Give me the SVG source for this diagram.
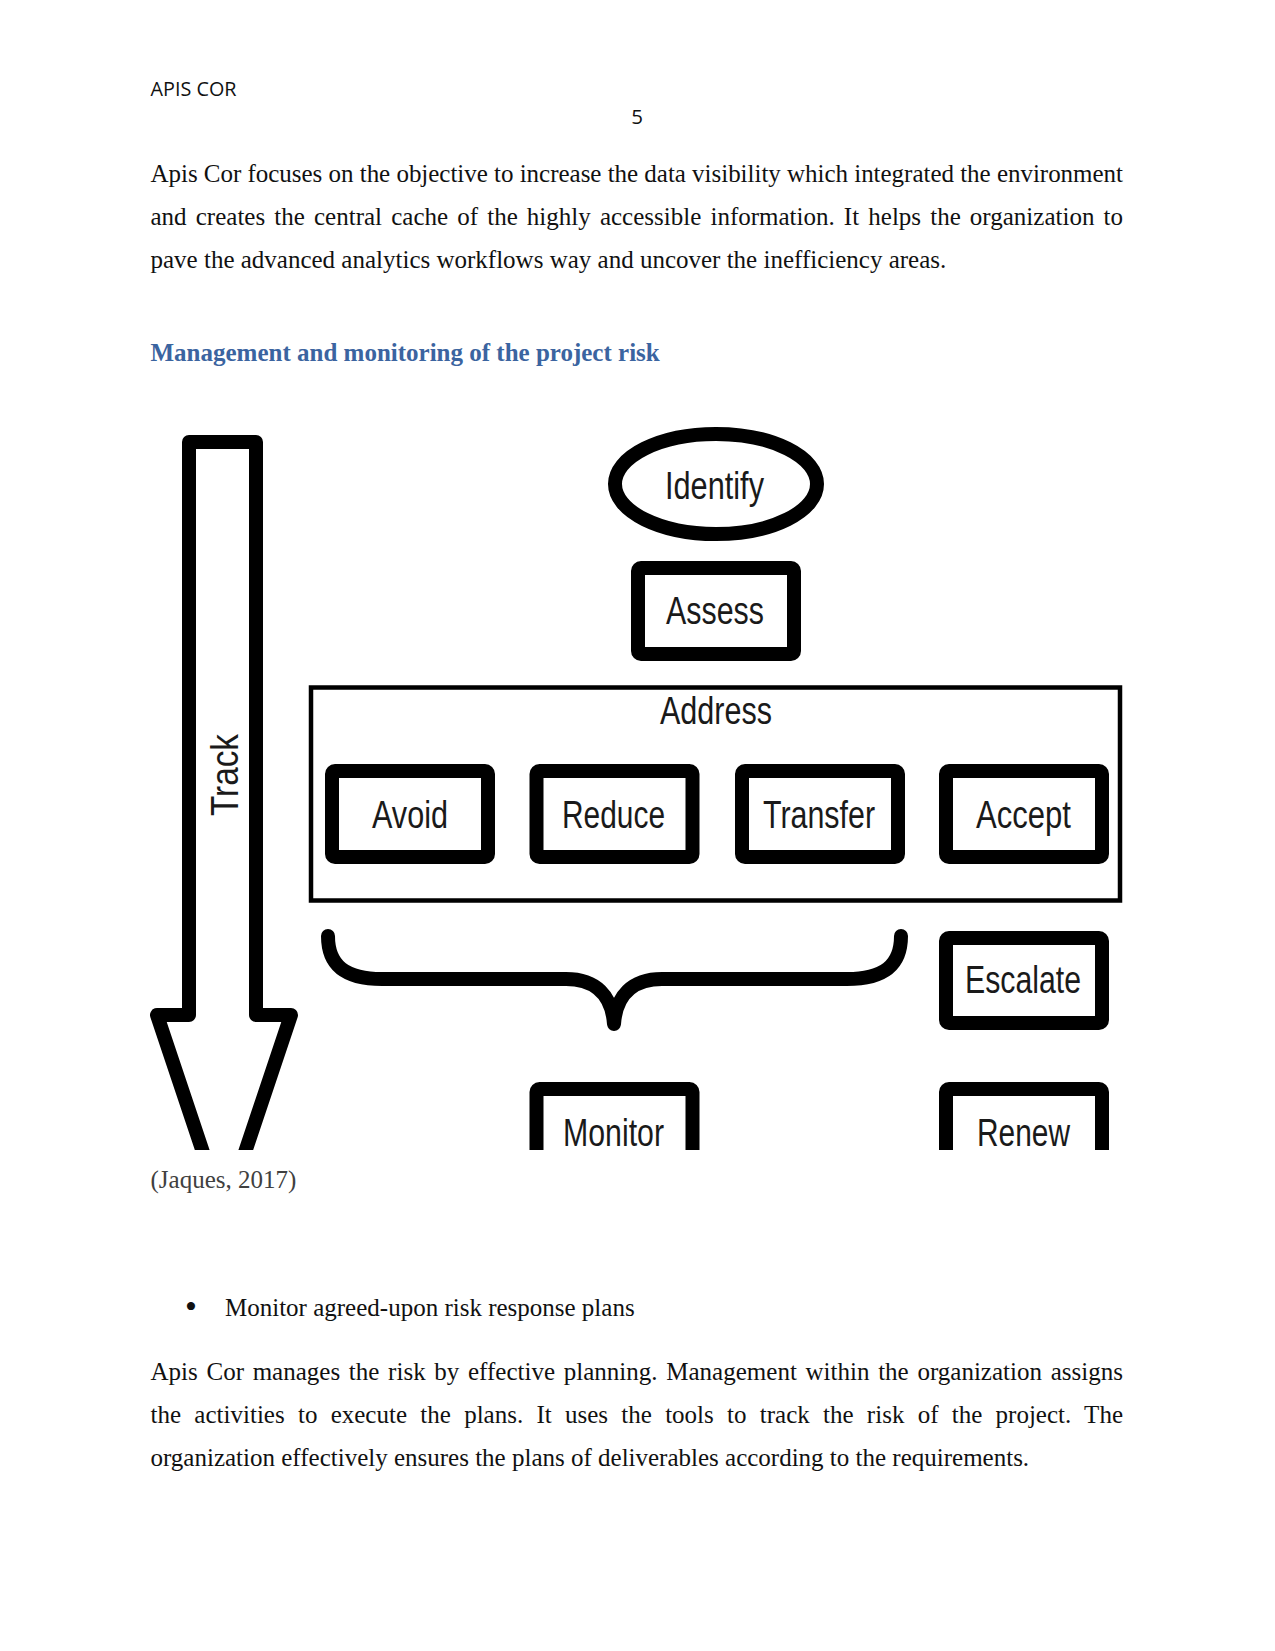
<svg xmlns="http://www.w3.org/2000/svg" width="1275" height="1651" viewBox="0 0 1275 1651">
<defs>
<style>
.body{font-family:"Liberation Serif","Times New Roman",serif;font-size:25px;fill:#111}
.hdr{font-family:"Open Sans","Liberation Sans",sans-serif;font-size:20.5px;fill:#111}
.h2{font-family:"Liberation Serif","Times New Roman",serif;font-size:25px;font-weight:bold;fill:#3B64A0}
.lbl{font-family:"Liberation Sans",Arial,sans-serif;font-size:38px;fill:#1a1a1a}
.box{fill:#fff;stroke:#000;stroke-width:14;stroke-linejoin:round}
.thick{fill:none;stroke:#000;stroke-width:14;stroke-linejoin:round}
</style>
<clipPath id="img"><rect x="140" y="420" width="1000" height="730"/></clipPath>
</defs>
<rect width="1275" height="1651" fill="#fff"/>

<text class="hdr" x="150.5" y="96" textLength="86" lengthAdjust="spacingAndGlyphs">APIS COR</text>
<text class="hdr" x="637" y="124" text-anchor="middle">5</text>

<text class="body" x="150.5" y="182" textLength="972.5" lengthAdjust="spacing">Apis Cor focuses on the objective to increase the data visibility which integrated the environment</text>
<text class="body" x="150.5" y="225" word-spacing="2.86" textLength="972.5" lengthAdjust="spacing">and creates the central cache of the highly accessible information. It helps the organization to</text>
<text class="body" x="150.5" y="268">pave the advanced analytics workflows way and uncover the inefficiency areas.</text>

<text class="h2" x="150.5" y="361">Management and monitoring of the project risk</text>

<g clip-path="url(#img)">
<g id="track">
<path class="thick" d="M189,442 L256,442 L256,1015 L291,1015 L224,1215 L157,1015 L189,1015 Z"/>
<text class="lbl" font-size="36" transform="translate(238,816) rotate(-90)" x="0" y="0" textLength="82" lengthAdjust="spacingAndGlyphs">Track</text>
</g>
<g id="identify">
<ellipse cx="716" cy="484" rx="101" ry="50" fill="#fff" stroke="#000" stroke-width="14"/>
<text class="lbl" x="665" y="499" textLength="99" lengthAdjust="spacingAndGlyphs">Identify</text>
</g>
<g id="assess">
<rect class="box" x="638" y="568" width="156" height="86" rx="3"/>
<text class="lbl" x="666" y="624" textLength="98" lengthAdjust="spacingAndGlyphs">Assess</text>
</g>
<g id="address">
<rect x="311" y="687.5" width="809" height="213" fill="none" stroke="#000" stroke-width="4.5"/>
<text class="lbl" x="660" y="724" textLength="112" lengthAdjust="spacingAndGlyphs">Address</text>
</g>
<g id="avoid">
<rect class="box" x="332" y="771" width="156" height="86" rx="3"/>
<text class="lbl" x="372" y="828" textLength="76" lengthAdjust="spacingAndGlyphs">Avoid</text>
</g>
<g id="reduce">
<rect class="box" x="536.5" y="771" width="156" height="86" rx="3"/>
<text class="lbl" x="562" y="828" textLength="103" lengthAdjust="spacingAndGlyphs">Reduce</text>
</g>
<g id="transfer">
<rect class="box" x="742" y="771" width="156" height="86" rx="3"/>
<text class="lbl" x="763" y="828" textLength="112" lengthAdjust="spacingAndGlyphs">Transfer</text>
</g>
<g id="accept">
<rect class="box" x="946" y="771" width="156" height="86" rx="3"/>
<text class="lbl" x="976" y="828" textLength="95" lengthAdjust="spacingAndGlyphs">Accept</text>
</g>
<g id="escalate">
<rect class="box" x="946" y="938" width="156" height="85" rx="3"/>
<text class="lbl" x="965" y="993" textLength="116" lengthAdjust="spacingAndGlyphs">Escalate</text>
</g>
<g id="monitor">
<rect class="box" x="536.5" y="1089" width="156" height="86" rx="3"/>
<text class="lbl" x="563" y="1146" textLength="101" lengthAdjust="spacingAndGlyphs">Monitor</text>
</g>
<g id="renew">
<rect class="box" x="946" y="1089" width="156" height="86" rx="3"/>
<text class="lbl" x="977" y="1146" textLength="93" lengthAdjust="spacingAndGlyphs">Renew</text>
</g>
<g id="connectors">
<path d="M328,936 C328,966 346,979 382,979 L566,979 C596,979 612,996 614,1024 M901,936 C901,966 883,979 847,979 L662,979 C632,979 616,996 614,1024" fill="none" stroke="#000" stroke-width="14" stroke-linecap="round"/>
</g>
</g>

<text class="body" style="fill:#404040" x="150.5" y="1188">(Jaques, 2017)</text>

<text class="body" style="font-size:34px" x="185" y="1318">•</text>
<text class="body" x="225" y="1316">Monitor agreed-upon risk response plans</text>

<text class="body" x="150.5" y="1380" word-spacing="2.4" textLength="972.5" lengthAdjust="spacing">Apis Cor manages the risk by effective planning. Management within the organization assigns</text>
<text class="body" x="150.5" y="1423" word-spacing="7" textLength="972.5" lengthAdjust="spacing">the activities to execute the plans. It uses the tools to track the risk of the project. The</text>
<text class="body" x="150.5" y="1466">organization effectively ensures the plans of deliverables according to the requirements.</text>
</svg>
